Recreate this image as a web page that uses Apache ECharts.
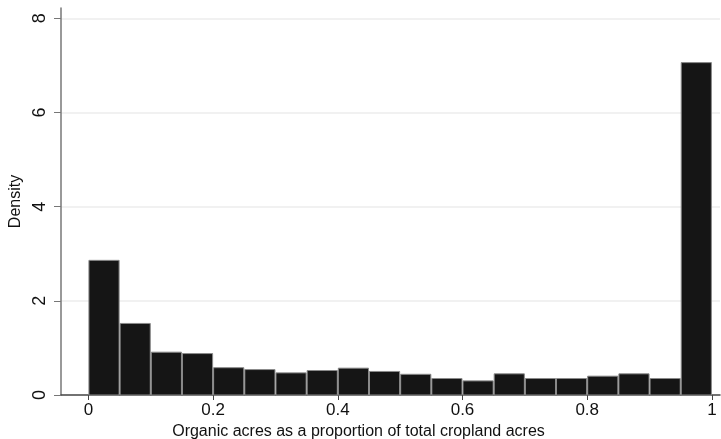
<!DOCTYPE html>
<html>
<head>
<meta charset="utf-8">
<script src="https://cdn.jsdelivr.net/npm/echarts@6/dist/echarts.min.js"></script>
<style>html,body{margin:0;padding:0;background:#fff;}#c{width:721px;height:439px;}</style>
</head>
<body>
<div id="c"></div>
<script>
const binStarts = [0, 0.05, 0.10, 0.15, 0.20, 0.25, 0.30, 0.35, 0.40, 0.45, 0.50, 0.55, 0.60, 0.65, 0.70, 0.75, 0.80, 0.85, 0.90, 0.95];
const binEnds   = [0.05, 0.10, 0.15, 0.20, 0.25, 0.30, 0.35, 0.40, 0.45, 0.50, 0.55, 0.60, 0.65, 0.70, 0.75, 0.80, 0.85, 0.90, 0.95, 1.00];
const density   = [2.86, 1.52, 0.91, 0.88, 0.58, 0.54, 0.47, 0.52, 0.57, 0.50, 0.44, 0.35, 0.30, 0.45, 0.35, 0.35, 0.40, 0.45, 0.35, 7.06];
const xTicks = [0, 0.2, 0.4, 0.6, 0.8, 1];
const yTicks = [0, 2, 4, 6, 8];
const gridLines = [2, 4, 6, 8];

const data = binStarts.map((s, i) => [s, binEnds[i], density[i]]);
const chart = echarts.init(document.getElementById('c'));
const font = 'Liberation Sans, Arial, Helvetica, sans-serif';
chart.setOption({
  animation: false,
  backgroundColor: '#fff',
  grid: { left: 61, right: 1, top: 8, bottom: 44, outerBoundsMode: 'none', containLabel: false },
  xAxis: {
    type: 'value', min: -0.044, max: 1.013,
    name: 'Organic acres as a proportion of total cropland acres',
    nameLocation: 'middle', nameGap: 28,
    nameTextStyle: { fontFamily: font, fontSize: 16, color: '#111', padding: [0, 64, 0, 0] },
    axisLine: { show: true, onZero: false, lineStyle: { color: '#444', width: 1.5 } },
    axisTick: { show: true, length: 5, customValues: xTicks, lineStyle: { color: '#444' } },
    axisLabel: { customValues: xTicks, fontFamily: font, fontSize: 17, color: '#111', margin: 7,
      formatter: v => String(Math.round(v * 10) / 10) },
    splitLine: { show: false }
  },
  yAxis: {
    type: 'value', min: 0, max: 8.22,
    name: 'Density', nameLocation: 'middle', nameGap: 36, nameRotate: 90,
    nameTextStyle: { fontFamily: font, fontSize: 16, color: '#111' },
    axisLine: { show: true, onZero: false, lineStyle: { color: '#777', width: 1.5 } },
    axisTick: { show: true, length: 7, customValues: yTicks, lineStyle: { color: '#777' } },
    axisLabel: { customValues: yTicks, rotate: 90, fontFamily: font, fontSize: 18, color: '#111', margin: 12 },
    splitLine: { show: false }
  },
  series: [{
    type: 'custom',
    data: data,
    encode: { x: [0, 1], y: 2 },
    renderItem: function (params, api) {
      const p0 = api.coord([api.value(0), api.value(2)]);
      const p1 = api.coord([api.value(1), 0]);
      return {
        type: 'rect',
        shape: { x: p0[0] + 0.5, y: p0[1], width: p1[0] - p0[0] - 1, height: p1[1] - p0[1] },
        style: { fill: '#151515', stroke: '#8a8a8a', lineWidth: 1 }
      };
    },
    markLine: {
      silent: true, symbol: 'none', label: { show: false },
      lineStyle: { color: '#ececec', type: 'solid', width: 1.5 },
      data: gridLines.map(v => ({ yAxis: v })),
      z: -1
    },
    z: 2
  }]
});
</script>
</body>
</html>
